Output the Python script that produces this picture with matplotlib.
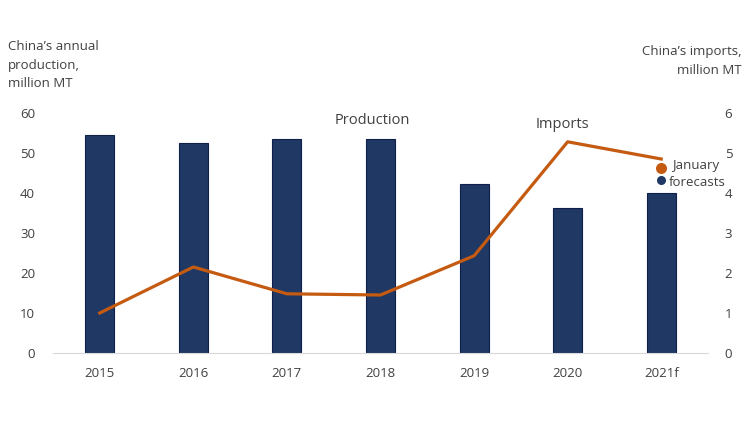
import matplotlib
matplotlib.use("Agg")
import matplotlib.pyplot as plt

years = ["2015", "2016", "2017", "2018", "2019", "2020", "2021f"]
production = [54.5, 52.6, 53.6, 53.6, 42.2, 36.2, 40.1]
imports = [1.0, 2.15, 1.48, 1.45, 2.43, 5.28, 4.85]
jan_forecast_production = 43.2
jan_forecast_imports = 4.63

navy = "#1F3864"
orange = "#C55A11"
txt = "#404040"

plt.rcParams['font.family'] = ['Open Sans', 'DejaVu Sans']

fig = plt.figure(figsize=(7.5, 4.22), dpi=100)
ax = fig.add_axes([53/750, 69/422, 655/750, 240/422])
ax2 = ax.twinx()

x = list(range(len(years)))
ax.bar(x, production, width=0.31, color=navy, edgecolor="#0F1F4A", linewidth=0.8, zorder=2)
ax.scatter([x[-1]], [jan_forecast_production], s=30, color=navy, zorder=5)
ax2.plot(x, imports, color=orange, linewidth=2.3, zorder=3)
ax2.scatter([x[-1]], [jan_forecast_imports], s=48, color=orange, zorder=5)

ax.set_xlim(-0.5, len(years) - 0.5)
ax.set_ylim(0, 60)
ax2.set_ylim(0, 6)
ax.set_yticks(range(0, 61, 10))
ax2.set_yticks(range(0, 7, 1))
ax.set_xticks(x)
ax.set_xticklabels(years)

for a in (ax, ax2):
    for s in a.spines.values():
        s.set_visible(False)
    a.tick_params(length=0, labelsize=9.5, colors=txt)
ax.spines['bottom'].set_visible(True)
ax.spines['bottom'].set_color("#D9D9D9")
ax.tick_params(axis='y', pad=13)
ax2.tick_params(axis='y', pad=12)
ax.tick_params(axis='x', pad=10)

ax.set_zorder(ax2.get_zorder() - 1)
ax.patch.set_visible(False)

fig.text(8/750, 1 - 40/422, "China\u2019s annual\nproduction,\nmillion MT", ha='left', va='top',
         fontsize=9.5, color=txt, linespacing=1.55)
fig.text(742/750, 1 - 45/422, "China\u2019s imports,\nmillion MT", ha='right', va='top',
         fontsize=9.5, color=txt, linespacing=1.55)
fig.text(372/750, 1 - 121/422, "Production", ha='center', va='center', fontsize=10.5, color=txt)
fig.text(562/750, 1 - 125/422, "Imports", ha='center', va='center', fontsize=10.5, color=txt)
fig.text(672/750, 1 - 165/422, "January", ha='left', va='center', fontsize=9.5, color=txt)
fig.text(669/750, 1 - 182/422, "forecasts", ha='left', va='center', fontsize=9.5, color=txt)

fig.savefig("out.png", dpi=100, facecolor="white")
